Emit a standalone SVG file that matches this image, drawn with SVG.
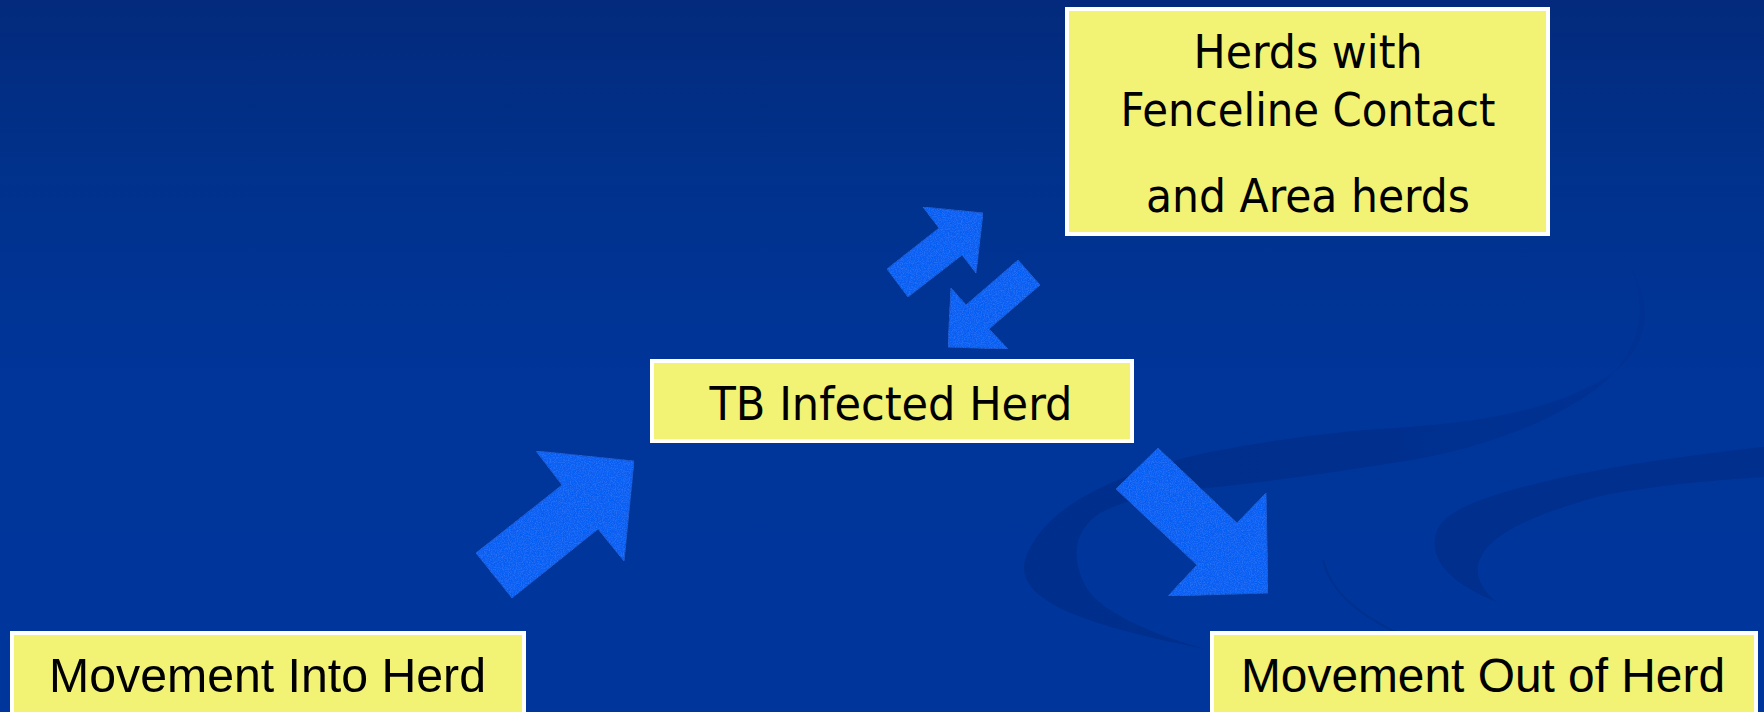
<svg xmlns="http://www.w3.org/2000/svg" width="1764" height="712" viewBox="0 0 1764 712">
  <defs>
    <linearGradient id="bg" x1="0" y1="0" x2="0" y2="1">
      <stop offset="0" stop-color="#032a7c"/>
      <stop offset="0.3" stop-color="#00338f"/>
      <stop offset="0.55" stop-color="#00359a"/>
      <stop offset="1" stop-color="#00369c"/>
    </linearGradient>
    <linearGradient id="swg" gradientUnits="userSpaceOnUse" x1="1020" y1="0" x2="1660" y2="0">
      <stop offset="0" stop-color="#002e8c"/>
      <stop offset="0.45" stop-color="#002f8d"/>
      <stop offset="1" stop-color="#003294"/>
    </linearGradient>
    <filter id="tex" x="0" y="0" width="1" height="1">
      <feTurbulence type="fractalNoise" baseFrequency="0.85" numOctaves="2" seed="4" result="n"/>
      <feColorMatrix in="n" type="matrix" values="0 0 0 0 0.1  0 0 0 0 0.4  0 0 0 0 0.95  0 0 0 0.5 -0.2" result="c"/>
      <feComposite in="c" in2="SourceGraphic" operator="in" result="m"/>
      <feMerge><feMergeNode in="SourceGraphic"/><feMergeNode in="m"/></feMerge>
    </filter>
    <style>
      .box { fill: #f2f274; stroke: #ffffff; stroke-width: 4; }
      .t1 { font-family: "DejaVu Sans", "Noto Sans", sans-serif; font-size: 47px; fill: #000000; text-anchor: middle; }
      .t2 { font-family: "Liberation Sans", Arial, sans-serif; font-size: 48px; fill: #000000; text-anchor: middle; }
      .arrow { fill: #0e5ef4; stroke: #1c54cc; stroke-width: 1; filter: url(#tex); }
      .sw { fill: url(#swg); }
      .sw2 { fill: #002f8d; }
      .swl { fill: none; stroke: #00318f; stroke-width: 2; }
    </style>
  </defs>

  <rect x="0" y="0" width="1764" height="712" fill="url(#bg)"/>

  <g id="background-swooshes">
    <path class="sw" d="M1620,250 C1650,290 1660,340 1610,375 C1540,420 1440,425 1364,430 C1300,436 1220,448 1177,460 C1110,478 1040,510 1025,560 C1015,600 1080,625 1210,650 C1170,640 1100,615 1085,585 C1070,555 1075,530 1100,513 C1140,493 1180,490 1207,488 C1300,478 1360,468 1400,462 C1480,450 1560,420 1605,382 C1648,340 1648,290 1620,250 Z"/>
    <path class="sw2" d="M1764,447 C1690,455 1620,465 1560,478 C1500,492 1455,505 1440,525 C1425,550 1440,580 1497,602 C1480,590 1472,570 1482,555 C1492,535 1530,515 1600,496 C1660,484 1720,480 1764,477 Z"/>
    <path class="swl" d="M1323,560 C1330,590 1355,612 1395,632"/>
  </g>

  <g id="connectors">
    <polygon class="arrow" points="476,553 562,485 536,451 634,461 624,561 598,529 512,598"/>
    <polygon class="arrow" points="887,269 939,228 923,207 983,213 976,273 962,255 908,297"/>
    <polygon class="arrow" points="1018,260 1040,285 989,329 1008,349 948,347 951,288 966,305"/>
    <polygon class="arrow" points="1158,448 1237,523 1266,493 1268,593 1168,596 1197,565 1116,489"/>
  </g>

  <g id="node-fenceline">
    <rect class="box" x="1067" y="9" width="481" height="225"/>
    <text class="t1" x="1308" y="68" textLength="229" lengthAdjust="spacingAndGlyphs">Herds with</text>
    <text class="t1" x="1308" y="126" textLength="375" lengthAdjust="spacingAndGlyphs">Fenceline Contact</text>
    <text class="t1" x="1308" y="212" textLength="324" lengthAdjust="spacingAndGlyphs">and Area herds</text>
  </g>

  <g id="node-tb">
    <rect class="box" x="652" y="361" width="480" height="80"/>
    <text class="t1" x="891" y="420" textLength="363" lengthAdjust="spacingAndGlyphs">TB Infected Herd</text>
  </g>

  <g id="node-into">
    <rect class="box" x="12" y="633" width="512" height="100"/>
    <text class="t2" x="267.5" y="692" textLength="437" lengthAdjust="spacingAndGlyphs">Movement Into Herd</text>
  </g>

  <g id="node-out">
    <rect class="box" x="1212" y="633" width="544" height="100"/>
    <text class="t2" x="1483" y="692" textLength="484" lengthAdjust="spacingAndGlyphs">Movement Out of Herd</text>
  </g>
</svg>
